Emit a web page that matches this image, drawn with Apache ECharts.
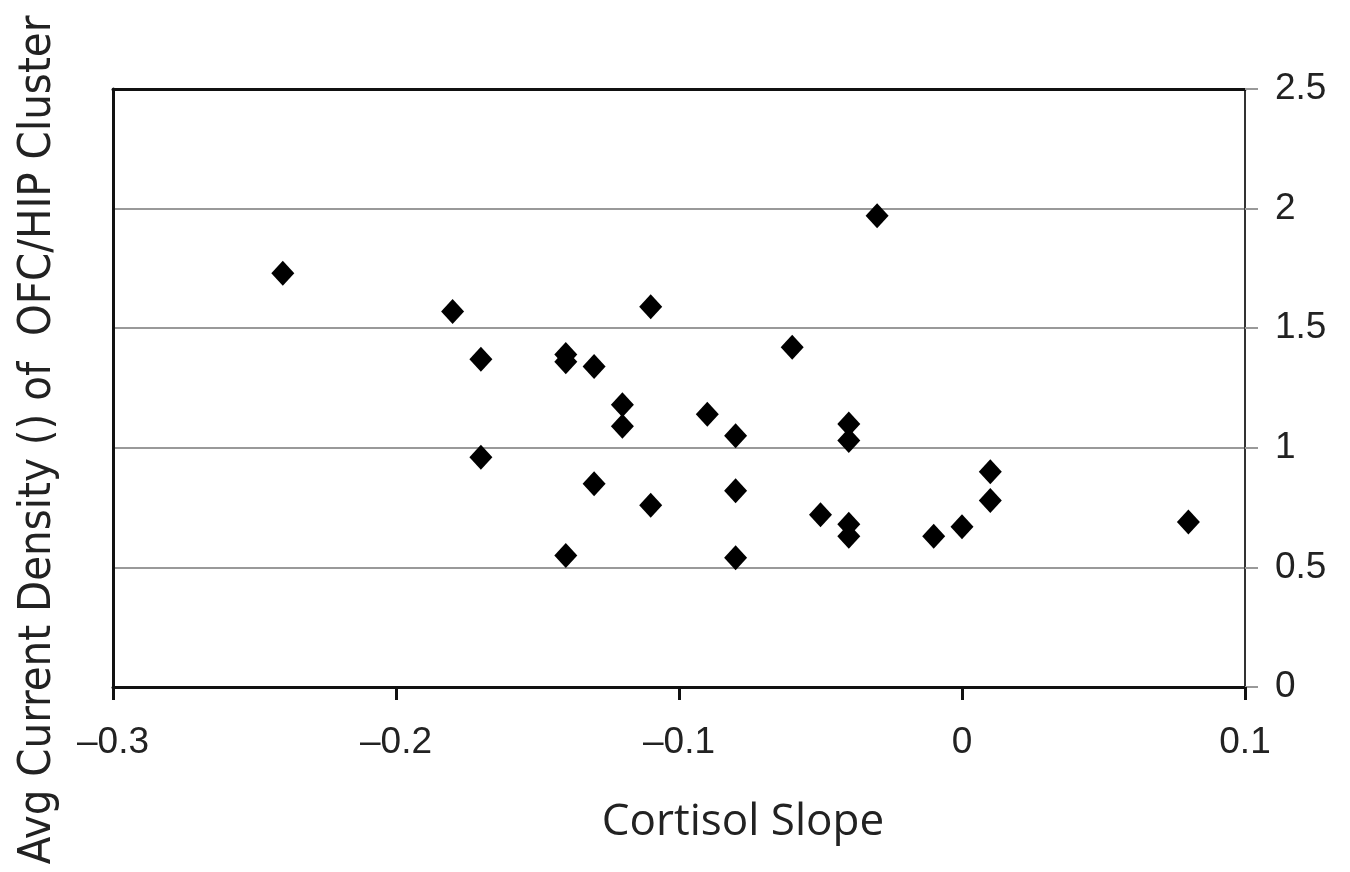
<!DOCTYPE html>
<html>
<head>
<meta charset="utf-8">
<script src="https://cdn.jsdelivr.net/npm/echarts@6/dist/echarts.min.js"></script>
<style>html,body{margin:0;padding:0;background:#fff;}#chart{width:1350px;height:872px;}</style>
</head>
<body>
<div id="chart"></div>
<script>
var xTitle = 'Cortisol Slope';
var yTitle = 'Avg Current Density () of  OFC/HIP Cluster';
var cortisolSlope = [-0.24,-0.18,-0.17,-0.17,-0.14,-0.14,-0.14,-0.13,-0.13,-0.12,-0.12,-0.11,-0.11,-0.09,-0.08,-0.08,-0.08,-0.06,-0.05,-0.04,-0.04,-0.04,-0.04,-0.03,-0.01,0,0.01,0.01,0.08];
var currentDensity = [1.73,1.57,1.37,0.96,1.39,1.36,0.55,1.34,0.85,1.18,1.09,1.59,0.76,1.14,1.05,0.82,0.54,1.42,0.72,1.10,1.03,0.68,0.63,1.97,0.63,0.67,0.90,0.78,0.69];

var points = cortisolSlope.map(function (x, i) { return [x, currentDensity[i]]; });
var tickFont = 'Liberation Sans, Arial, sans-serif';
var chart = echarts.init(document.getElementById('chart'));
chart.setOption({
  animation: false,
  grid: {left: 113, right: 105, top: 89, bottom: 185, outerBoundsMode: 'none', containLabel: false},
  graphic: [{
    type: 'text', x: 743, y: 822,
    style: {text: xTitle, font: '44px "Open Sans"', fill: '#222', align: 'center', verticalAlign: 'middle'}
  }, {
    type: 'text', x: 38, y: 440, rotation: Math.PI / 2,
    style: {text: yTitle, font: '45px "DejaVu Sans Condensed"', fill: '#222', align: 'center', verticalAlign: 'middle'}
  }],
  xAxis: [{
    type: 'value', min: -0.3, max: 0.1, interval: 0.1, position: 'bottom',
    axisLine: {show: true, onZero: false, lineStyle: {color: '#111', width: 3}},
    axisTick: {show: true, length: 13, lineStyle: {color: '#111', width: 3}},
    axisLabel: {fontFamily: tickFont, fontSize: 37, color: '#222', margin: 37,
      formatter: function (v) { var s = (Math.round(v * 10) / 10).toString(); return s.replace('-', '\u2013'); }},
    splitLine: {show: false}
  }, {
    type: 'value', min: -0.3, max: 0.1, position: 'top',
    axisLine: {show: true, onZero: false, lineStyle: {color: '#111', width: 3}},
    axisTick: {show: false}, axisLabel: {show: false}, splitLine: {show: false}
  }],
  yAxis: [{
    type: 'value', min: 0, max: 2.5, interval: 0.5, position: 'right',
    axisLine: {show: true, onZero: false, lineStyle: {color: '#333', width: 2}},
    axisTick: {show: true, length: 13, lineStyle: {color: '#999', width: 2}},
    axisLabel: {fontFamily: tickFont, fontSize: 37, color: '#222', margin: 30},
    splitLine: {show: true, lineStyle: {color: '#999', width: 2}}
  }, {
    type: 'value', min: 0, max: 2.5, position: 'left',
    axisLine: {show: true, onZero: false, lineStyle: {color: '#111', width: 3}},
    axisTick: {show: false}, axisLabel: {show: false}, splitLine: {show: false}
  }],
  series: [{
    type: 'scatter', xAxisIndex: 0, yAxisIndex: 0,
    data: points, symbol: 'diamond', symbolSize: [23, 25],
    itemStyle: {color: '#000', opacity: 1}
  }]
});
</script>
</body>
</html>
